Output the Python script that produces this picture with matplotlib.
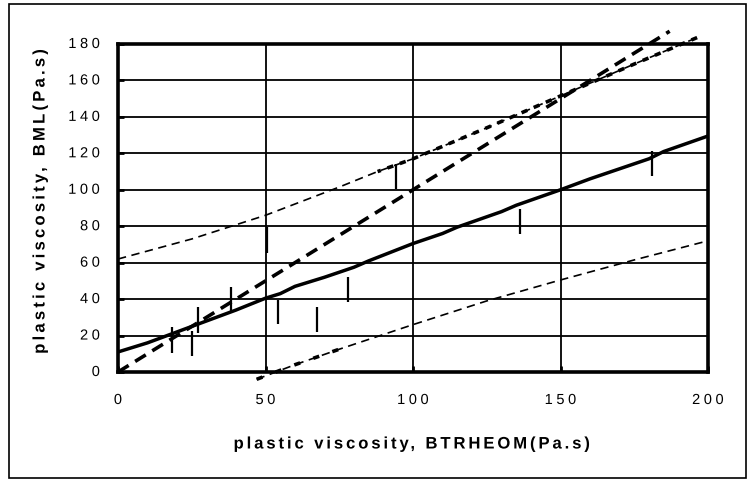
import matplotlib
matplotlib.use("Agg")
import numpy as np
import matplotlib.pyplot as plt
from matplotlib.patches import Rectangle
from matplotlib.patheffects import AbstractPathEffect
from matplotlib.textpath import text_to_path
from matplotlib.path import Path

plt.rcParams['font.family'] = ['Liberation Sans', 'DejaVu Sans']
plt.rcParams['lines.scale_dashes'] = False

# regression line (BML vs BTRHEOM)
reg_x = [0, 10, 20, 30, 40, 50, 55, 60, 70, 80, 85, 100, 110, 115, 130, 135, 150, 160, 180, 185, 200]
reg_y = [11, 16, 22, 28, 34, 40.5, 43, 47, 52, 57.5, 61, 70.5, 76, 79.5, 88, 91.5, 100, 106, 117, 121, 129.5]

# equality line y = x
eq_x = [0, 187]
eq_y = [0, 187]

# upper prediction band
up_x = [0, 25, 50, 75, 88, 100, 125, 150, 175, 197]
up_y = [62, 73, 86, 101.5, 110, 117, 134, 151.5, 169, 184]

# lower prediction band
lo_x = [47, 60, 75, 100, 125, 150, 175, 200]
lo_y = [-4, 4, 12.5, 26, 39, 50.5, 61.5, 72]

# measured points with vertical error bars
pt_x = [18.4, 25.2, 27.2, 38.2, 50.4, 54.2, 67.3, 78.0, 94.2, 136.3, 181.1]
pt_y = [17.6, 15.6, 28.4, 40.0, 72.5, 32.9, 28.8, 45.1, 107.3, 82.6, 114.5]
pt_err = [7, 7, 7, 6.5, 7, 6.6, 7, 6.9, 6.9, 6.9, 7]

x_ticks = [0, 50, 100, 150, 200]
y_ticks = [0, 20, 40, 60, 80, 100, 120, 140, 160, 180]
x_tick_labels = ['0', '50', '100', '150', '200']
y_tick_labels = ['0', '20', '40', '60', '80', '100', '120', '140', '160', '180']
x_label = 'plastic viscosity, BTRHEOM(Pa.s)'
y_label = 'plastic viscosity, BML(Pa.s)'


class LetterSpacing(AbstractPathEffect):
    """Draw a text path with extra spacing between glyphs (in pixels)."""

    def __init__(self, text, prop, spacing_px, align):
        super().__init__()
        self.text = text
        self.prop = prop
        self.sp = spacing_px
        self.align = align

    def draw_path(self, renderer, gc, tpath, affine, rgbFace=None):
        font = text_to_path._get_font(self.prop)
        glyph_info = text_to_path.get_glyphs_with_font(font, self.text)[0]
        xpos = np.array([g[1] for g in glyph_info], dtype=float)
        n = len(xpos)
        fs_px = renderer.points_to_pixels(self.prop.get_size_in_points())
        sp = self.sp * text_to_path.FONT_SCALE / fs_px
        verts = np.array(tpath.vertices, dtype=float).copy()
        codes = tpath.codes
        if codes is not None and n > 1:
            starts = np.where(codes == Path.MOVETO)[0]
            ends = list(starts[1:]) + [len(verts)]
            for a, b in zip(starts, ends):
                seg = slice(a, b)
                mask = codes[seg] != Path.CLOSEPOLY
                if not mask.any():
                    continue
                cx = verts[seg][mask, 0].mean()
                i = max(0, int(np.searchsorted(xpos, cx, side='right')) - 1)
                verts[a:b, 0] += i * sp
            verts[:, 0] -= (n - 1) * sp * self.align
        renderer.draw_path(gc, Path(verts, codes), affine, rgbFace)


def spaced_text(ax_or_fig, x, y, s, size, weight='normal', spacing=4.4, ha='center', va='center',
                rotation=0, transform=None):
    t = ax_or_fig.text(x, y, s, fontsize=size, fontweight=weight, ha=ha, va=va,
                       rotation=rotation, transform=transform)
    align = {'left': 0.0, 'center': 0.5, 'right': 1.0}[ha]
    t.set_path_effects([LetterSpacing(s, t.get_fontproperties(), spacing, align)])
    return t


fig = plt.figure(figsize=(7.48, 4.81), dpi=100)
ax = fig.add_axes([118/748, 1-373/481, 590/748, 328/481])
ax.set_xlim(0, 200)
ax.set_ylim(0, 180)

for y in y_ticks[1:]:
    ax.axhline(y, color='black', lw=1.3, zorder=1)
for x in x_ticks[1:-1]:
    ax.axvline(x, color='black', lw=1.3, zorder=1)

ax.plot(reg_x, reg_y, color='black', lw=2.5, solid_capstyle='round', zorder=4)
ax.plot(eq_x, eq_y, color='black', lw=2.6, linestyle=(0, (9, 5.5)), clip_on=False, zorder=3)
ax.plot(up_x, up_y, color='black', lw=1.2, linestyle=(0, (6, 4)), clip_on=False, zorder=3)
ax.plot(up_x[4:], up_y[4:], color='black', lw=2.6, linestyle=(2, (4.5, 5)), clip_on=False, zorder=3)
ax.plot(lo_x, lo_y, color='black', lw=1.2, linestyle=(0, (6, 4)), clip_on=False, zorder=3)
ax.plot(lo_x[:3], lo_y[:3], color='black', lw=2.6, linestyle=(0, (4.5, 10)), clip_on=False, zorder=3)
ax.errorbar(pt_x, pt_y, yerr=pt_err, fmt='none', ecolor='black', elinewidth=1.6, capsize=0, zorder=5)

for s in ax.spines.values():
    s.set_linewidth(2.6)
    s.set_zorder(6)

ax.set_xticks(x_ticks)
ax.set_yticks(y_ticks)
ax.tick_params(direction='in', length=4, width=2, labelbottom=False, labelleft=False)

for xv, lab in zip(x_ticks, x_tick_labels):
    spaced_text(ax, xv, (373 - 401) / 328, lab, 10.5, spacing=3.6, ha='center', va='center',
                transform=ax.get_xaxis_transform())
for yv, lab in zip(y_ticks, y_tick_labels):
    spaced_text(ax, (100 - 118) / 590, yv, lab, 10.5, spacing=3.6, ha='right', va='center',
                transform=ax.get_yaxis_transform())

spaced_text(fig, 411/748, 1-445/481, x_label, 12, weight='bold', spacing=2.9,
            transform=fig.transFigure)
spaced_text(fig, 40/748, 1-203/481, y_label, 12, weight='bold', spacing=3.2, rotation=90,
            transform=fig.transFigure)

fig.patches.append(Rectangle((9/748, 1-479/481), 737/748, 474/481, transform=fig.transFigure,
                             fill=False, edgecolor='black', lw=1.2))

fig.savefig('out.png', dpi=100)
